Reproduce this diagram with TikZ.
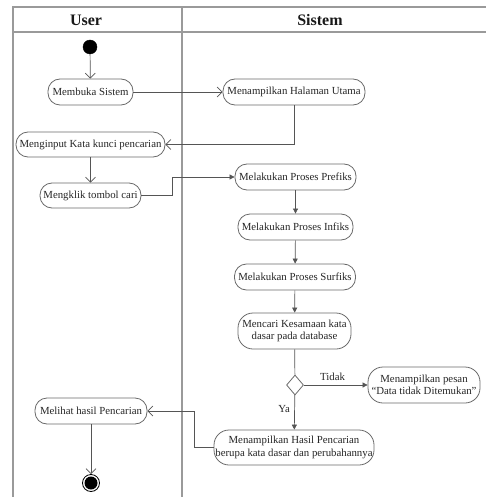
\documentclass[tikz,border=0pt]{standalone}
\usepackage{fontspec}
\setmainfont{Liberation Serif}
\usetikzlibrary{arrows.meta,shapes.geometric}
\definecolor{lanec}{HTML}{9A9A9A}
\definecolor{linec}{HTML}{555555}
\definecolor{boxc}{HTML}{6A6A6A}
\tikzset{
  act/.style={draw=boxc, line width=0.8pt, fill=white, rounded corners=12pt,
    inner sep=1pt, align=center, text=black!85, font=\fontsize{10.8}{12.5}\selectfont},
  openarr/.style={draw=linec, line width=0.7pt, -{Straight Barb[length=5pt,width=10pt]}},
  fillarr/.style={draw=linec, line width=0.7pt, -{Triangle[length=5pt,width=5pt]}},
  lbl/.style={font=\fontsize{10.8}{12.5}\selectfont, text=black!85},
  hdr/.style={font=\fontsize{16}{18}\selectfont\bfseries, text=black!90}
}
\begin{document}
\begin{tikzpicture}[x=1pt,y=-1pt]
\useasboundingbox (0,0) rectangle (486,497);
% swimlane frame
\draw[lanec, line width=1.4pt] (13,505) -- (13,7) -- (490,7);
\draw[lanec, line width=1.4pt] (13,32) -- (490,32);
\draw[lanec, line width=1.4pt] (182,7) -- (182,505);
\node[hdr] (huser) at (86,20) {User};
\node[hdr] (hsis) at (320,20) {Sistem};
% nodes
\node[circle, fill=black, draw=black, inner sep=0pt, minimum size=14pt] (start) at (90,47) {};
\node[act, minimum width=85pt, minimum height=26pt] (buka) at (90.5,92) {Membuka Sistem};
\node[act, minimum width=142pt, minimum height=26pt] (utama) at (294,92) {Menampilkan Halaman Utama};
\node[act, minimum width=149pt, minimum height=25pt] (input) at (90.5,144.5) {Menginput Kata kunci pencarian};
\node[act, minimum width=101pt, minimum height=25pt] (klik) at (90.5,195.5) {Mengklik tombol cari};
\node[act, minimum width=121pt, minimum height=26pt] (pre) at (295.5,177) {Melakukan Proses Prefiks};
\node[act, minimum width=115pt, minimum height=26pt] (inf) at (295.5,227) {Melakukan Proses Infiks};
\node[act, minimum width=121pt, minimum height=26pt] (suf) at (295,277) {Melakukan Proses Surfiks};
\node[act, minimum width=113pt, minimum height=36pt, rounded corners=15pt] (cari) at (294.5,331) {Mencari Kesamaan kata\\dasar pada database};
\node[diamond, draw=boxc, line width=0.8pt, fill=white, inner sep=0pt, minimum width=17pt, minimum height=20pt] (dec) at (295,385) {};
\node[act, minimum width=112pt, minimum height=36pt, rounded corners=15pt] (pesan) at (424,385) {Menampilkan pesan\\``Data tidak Ditemukan''};
\node[act, minimum width=160pt, minimum height=35pt, rounded corners=15pt] (hasil) at (294,447.5) {Menampilkan Hasil Pencarian\\berupa kata dasar dan perubahannya};
\node[act, minimum width=112pt, minimum height=26pt] (lihat) at (91,411) {Melihat hasil Pencarian};
\node[circle, draw=black, line width=0.8pt, inner sep=0pt, minimum size=17pt] (end) at (91,483) {};
\fill[black] (end.center) circle (6.5pt);
% connectors
\draw[openarr] (start) -- (buka);
\draw[openarr] (buka) -- (utama);
\draw[openarr] (utama.south) |- (input.east);
\draw[openarr] (input) -- (klik);
\draw[fillarr] (klik.east) -- ++(31,0) |- (pre.west);
\draw[fillarr] (pre) -- (inf);
\draw[fillarr] (inf) -- (suf);
\draw[fillarr] (suf) -- (cari);
\draw[draw=linec, line width=0.7pt] (cari) -- (dec);
\draw[fillarr] (dec) -- node[lbl, above, pos=0.45, yshift=1pt] {Tidak} (pesan);
\draw[fillarr] (dec) -- node[lbl, left, pos=0.4, xshift=-1pt] {Ya} (hasil);
\draw[openarr] (hasil.west) -- ++(-19,0) |- (lihat.east);
\draw[openarr] (lihat) -- (end);
\end{tikzpicture}
\end{document}
